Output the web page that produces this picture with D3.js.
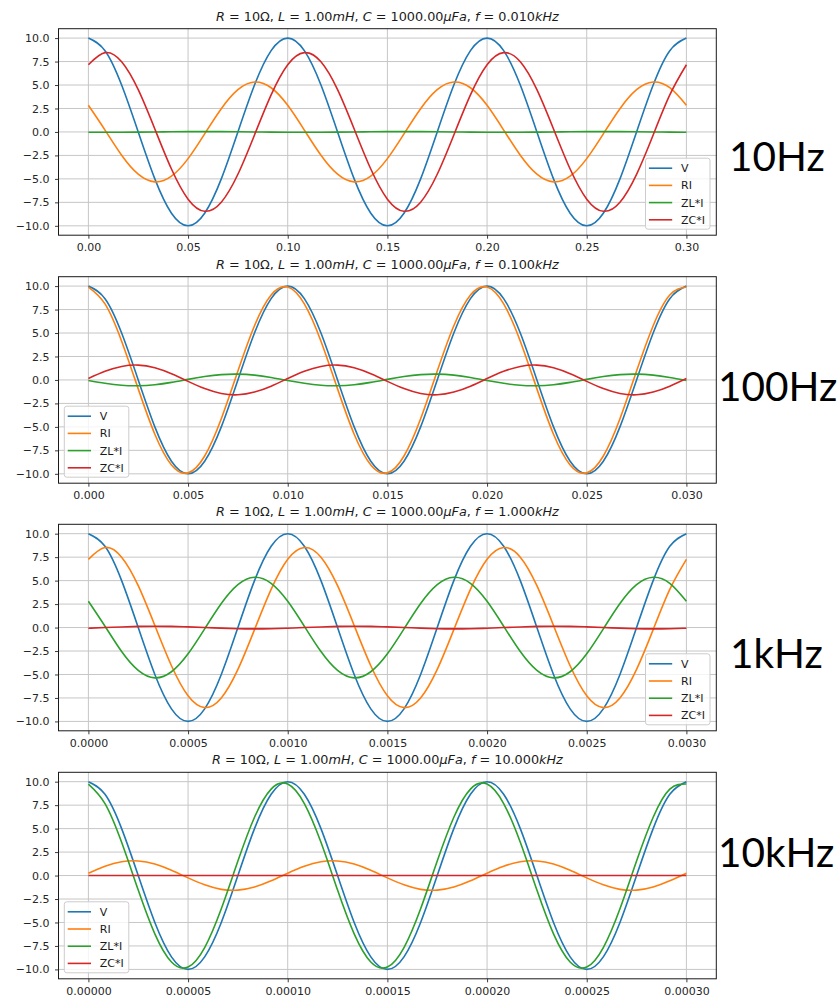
<!DOCTYPE html>
<html>
<head>
<meta charset="utf-8">
<script src="https://cdn.jsdelivr.net/npm/d3@7"></script>
<style>
	body { margin: 0; background: #fff; }
	svg { display: block; }
	.axis text { font-family: 'DejaVu Sans', sans-serif; font-size: 11px; fill: #262626; }
	.axis line { stroke: #262626; stroke-width: 0.9; }
	.title { font-family: 'DejaVu Sans', sans-serif; font-size: 12.8px; fill: #1a1a1a; }
	.title .it { font-style: italic; }
	.legend text { font-family: 'DejaVu Sans', sans-serif; font-size: 11px; fill: #1a1a1a; }
	.freq { font-family: Lato, 'Open Sans', sans-serif; font-size: 40.5px; fill: #000; }
</style>
</head>
<body>
<svg id="chart" width="839" height="997"></svg>
<script>
// sample times (s), 1/12 of a period apart
const t10Hz = [0,0.00833,0.01667,0.025,0.03333,0.04167,0.05,0.05833,0.06667,0.075,0.08333,0.09167,0.1,0.10833,0.11667,0.125,0.13333,0.14167,0.15,0.15833,0.16667,0.175,0.18333,0.19167,0.2,0.20833,0.21667,0.225,0.23333,0.24167,0.25,0.25833,0.26667,0.275,0.28333,0.29167,0.3]
const t100Hz = [0,0.000833,0.001667,0.0025,0.003333,0.004167,0.005,0.005833,0.006667,0.0075,0.008333,0.009167,0.01,0.010833,0.011667,0.0125,0.013333,0.014167,0.015,0.015833,0.016667,0.0175,0.018333,0.019167,0.02,0.020833,0.021667,0.0225,0.023333,0.024167,0.025,0.025833,0.026667,0.0275,0.028333,0.029167,0.03]
const t1kHz = [0,0.0000833,0.0001667,0.00025,0.0003333,0.0004167,0.0005,0.0005833,0.0006667,0.00075,0.0008333,0.0009167,0.001,0.0010833,0.0011667,0.00125,0.0013333,0.0014167,0.0015,0.0015833,0.0016667,0.00175,0.0018333,0.0019167,0.002,0.0020833,0.0021667,0.00225,0.0023333,0.0024167,0.0025,0.0025833,0.0026667,0.00275,0.0028333,0.0029167,0.003]
const t10kHz = [0,0.00000833,0.00001667,0.000025,0.00003333,0.00004167,0.00005,0.00005833,0.00006667,0.000075,0.00008333,0.00009167,0.0001,0.00010833,0.00011667,0.000125,0.00013333,0.00014167,0.00015,0.00015833,0.00016667,0.000175,0.00018333,0.00019167,0.0002,0.00020833,0.00021667,0.000225,0.00023333,0.00024167,0.00025,0.00025833,0.00026667,0.000275,0.00028333,0.00029167,0.0003]

// source voltage, same in every panel
const vSource = [10,8.66,5,0,-5,-8.66,-10,-8.66,-5,0,5,8.66, 10,8.66,5,0,-5,-8.66,-10,-8.66,-5,0,5,8.66, 10,8.66,5,0,-5,-8.66,-10,-8.66,-5,0,5,8.66, 10]

const ri10Hz = [2.84,0.2,-2.48,-4.5,-5.32,-4.71,-2.84,-0.2,2.48,4.5,5.32,4.71, 2.84,0.2,-2.48,-4.5,-5.32,-4.71,-2.84,-0.2,2.48,4.5,5.32,4.71, 2.84,0.2,-2.48,-4.5,-5.32,-4.71,-2.84,-0.2,2.48,4.5,5.32,4.71, 2.84]
const zl10Hz = [-0.03,-0.03,-0.03,-0.02,0,0.02,0.03,0.03,0.03,0.02,0,-0.02, -0.03,-0.03,-0.03,-0.02,0,0.02,0.03,0.03,0.03,0.02,0,-0.02, -0.03,-0.03,-0.03,-0.02,0,0.02,0.03,0.03,0.03,0.02,0,-0.02, -0.03]
const zc10Hz = [7.16,8.45,7.48,4.51,0.32,-3.95,-7.16,-8.45,-7.48,-4.51,-0.32,3.95, 7.16,8.45,7.48,4.51,0.32,-3.95,-7.16,-8.45,-7.48,-4.51,-0.32,3.95, 7.16,8.45,7.48,4.51,0.32,-3.95,-7.16,-8.45,-7.48,-4.51,-0.32,3.95, 7.16]

const ri100Hz = [9.9,8.1,4.13,-0.95,-5.78,-9.05,-9.9,-8.1,-4.13,0.95,5.78,9.05, 9.9,8.1,4.13,-0.95,-5.78,-9.05,-9.9,-8.1,-4.13,0.95,5.78,9.05, 9.9,8.1,4.13,-0.95,-5.78,-9.05,-9.9,-8.1,-4.13,0.95,5.78,9.05, 9.9]
const zl100Hz = [-0.06,-0.36,-0.57,-0.62,-0.51,-0.26,0.06,0.36,0.57,0.62,0.51,0.26, -0.06,-0.36,-0.57,-0.62,-0.51,-0.26,0.06,0.36,0.57,0.62,0.51,0.26, -0.06,-0.36,-0.57,-0.62,-0.51,-0.26,0.06,0.36,0.57,0.62,0.51,0.26, -0.06]
const zc100Hz = [0.15,0.92,1.44,1.58,1.29,0.66,-0.15,-0.92,-1.44,-1.58,-1.29,-0.66, 0.15,0.92,1.44,1.58,1.29,0.66,-0.15,-0.92,-1.44,-1.58,-1.29,-0.66, 0.15,0.92,1.44,1.58,1.29,0.66,-0.15,-0.92,-1.44,-1.58,-1.29,-0.66, 0.15]

const ri1kHz = [7.27,8.53,7.5,4.46,0.22,-4.07,-7.27,-8.53,-7.5,-4.46,-0.22,4.07, 7.27,8.53,7.5,4.46,0.22,-4.07,-7.27,-8.53,-7.5,-4.46,-0.22,4.07, 7.27,8.53,7.5,4.46,0.22,-4.07,-7.27,-8.53,-7.5,-4.46,-0.22,4.07, 7.27]
const zl1kHz = [2.8,0.14,-2.56,-4.57,-5.36,-4.71,-2.8,-0.14,2.56,4.57,5.36,4.71, 2.8,0.14,-2.56,-4.57,-5.36,-4.71,-2.8,-0.14,2.56,4.57,5.36,4.71, 2.8,0.14,-2.56,-4.57,-5.36,-4.71,-2.8,-0.14,2.56,4.57,5.36,4.71, 2.8]
const zc1kHz = [-0.07,0,0.06,0.12,0.14,0.12,0.07,0,-0.06,-0.12,-0.14,-0.12, -0.07,0,0.06,0.12,0.14,0.12,0.07,0,-0.06,-0.12,-0.14,-0.12, -0.07,0,0.06,0.12,0.14,0.12,0.07,0,-0.06,-0.12,-0.14,-0.12, -0.07]

const ri10kHz = [0.25,0.99,1.47,1.55,1.22,0.56,-0.25,-0.99,-1.47,-1.55,-1.22,-0.56, 0.25,0.99,1.47,1.55,1.22,0.56,-0.25,-0.99,-1.47,-1.55,-1.22,-0.56, 0.25,0.99,1.47,1.55,1.22,0.56,-0.25,-0.99,-1.47,-1.55,-1.22,-0.56, 0.25]
const zl10kHz = [9.75,7.67,3.54,-1.54,-6.21,-9.21,-9.75,-7.67,-3.54,1.54,6.21,9.21, 9.75,7.67,3.54,-1.54,-6.21,-9.21,-9.75,-7.67,-3.54,1.54,6.21,9.21, 9.75,7.67,3.54,-1.54,-6.21,-9.21,-9.75,-7.67,-3.54,1.54,6.21,9.21, 9.75]
const zc10kHz = [0,0,0,0,0,0,0,0,0,0,0,0, 0,0,0,0,0,0,0,0,0,0,0,0, 0,0,0,0,0,0,0,0,0,0,0,0, 0]

const seriesNames = ['V', 'RI', 'ZL*I', 'ZC*I']
const fValues = ['0.010', '0.100', '1.000', '10.000']
const freqLabels = ['10Hz', '100Hz', '1kHz', '10kHz']
const xTicks10Hz = [0, 0.05, 0.1, 0.15, 0.2, 0.25, 0.3]
const xTicks100Hz = [0, 0.005, 0.01, 0.015, 0.02, 0.025, 0.03]
const xTicks1kHz = [0, 0.0005, 0.001, 0.0015, 0.002, 0.0025, 0.003]
const xTicks10kHz = [0, 0.00005, 0.0001, 0.00015, 0.0002, 0.00025, 0.0003]
const yTicks = [-10, -7.5, -5, -2.5, 0, 2.5, 5, 7.5, 10]

const colors = ['#1f77b4', '#ff7f0e', '#2ca02c', '#d62728']

const panels = [
	{ t: t10Hz, series: [vSource, ri10Hz, zl10Hz, zc10Hz], xTicks: xTicks10Hz, fmt: '.2f', legend: 'right' },
	{ t: t100Hz, series: [vSource, ri100Hz, zl100Hz, zc100Hz], xTicks: xTicks100Hz, fmt: '.3f', legend: 'left' },
	{ t: t1kHz, series: [vSource, ri1kHz, zl1kHz, zc1kHz], xTicks: xTicks1kHz, fmt: '.4f', legend: 'right' },
	{ t: t10kHz, series: [vSource, ri10kHz, zl10kHz, zc10kHz], xTicks: xTicks10kHz, fmt: '.5f', legend: 'left' }
]

const svg = d3.select('#chart')

const left = 58.5,
	right = 716.3,
	plotH = 206.5
const tops = [28.7, 276.7, 524.3, 772.3]
// where the big frequency words sit (x, baseline)
const freqPos = [[729, 170.7], [718, 401], [730, 668.3], [718, 866.7]]

// mathtext-like title: letters italic, numbers upright
const drawTitle = (g, cx, y, f) => {
	const parts = [
		['R', true], [' = 10Ω, ', false], ['L', true], [' = 1.00', false], ['mH', true],
		[', ', false], ['C', true], [' = 1000.00', false], ['μFa', true], [', ', false],
		['f', true], [' = ' + f, false], ['kHz', true]
	]
	const text = g.append('text')
		.attr('class', 'title')
		.attr('x', cx)
		.attr('y', y)
		.attr('text-anchor', 'middle')
		.attr('xml:space', 'preserve')
	parts.forEach(([s, it]) => {
		text.append('tspan').attr('class', it ? 'it' : null).text(s)
	})
}

panels.forEach((p, i) => {
	const top = tops[i]
	const bottom = top + plotH
	const tMax = d3.max(p.t)

	const x = d3.scaleLinear().domain([-0.05 * tMax, 1.05 * tMax]).range([left, right])
	const y = d3.scaleLinear().domain([-11, 11]).range([bottom, top])

	const g = svg.append('g')

	// grid
	g.append('g')
		.selectAll('line')
		.data(p.xTicks)
		.enter()
		.append('line')
		.attr('x1', d => x(d))
		.attr('x2', d => x(d))
		.attr('y1', top)
		.attr('y2', bottom)
		.attr('stroke', '#c6c6c6')
		.attr('stroke-width', 1)
	g.append('g')
		.selectAll('line')
		.data(yTicks)
		.enter()
		.append('line')
		.attr('x1', left)
		.attr('x2', right)
		.attr('y1', d => y(d))
		.attr('y2', d => y(d))
		.attr('stroke', '#c6c6c6')
		.attr('stroke-width', 1)

	// curves
	const line = d3.line()
		.x((d, j) => x(p.t[j]))
		.y(d => y(d))
		.curve(d3.curveNatural)

	g.append('g')
		.selectAll('path')
		.data(p.series)
		.enter()
		.append('path')
		.attr('d', line)
		.attr('fill', 'none')
		.attr('stroke', (d, k) => colors[k])
		.attr('stroke-width', 1.6)

	// frame
	g.append('rect')
		.attr('x', left)
		.attr('y', top)
		.attr('width', right - left)
		.attr('height', plotH)
		.attr('fill', 'none')
		.attr('stroke', '#1a1a1a')
		.attr('stroke-width', 1)

	// axes
	const xAxis = g.append('g')
		.attr('class', 'axis')
		.attr('transform', `translate(0,${bottom})`)
		.call(d3.axisBottom(x).tickValues(p.xTicks).tickFormat(d3.format(p.fmt)).tickSize(3.5).tickPadding(5))
	xAxis.select('.domain').remove()
	xAxis.attr('font-size', null).attr('font-family', null)

	const yAxis = g.append('g')
		.attr('class', 'axis')
		.attr('transform', `translate(${left},0)`)
		.call(d3.axisLeft(y).tickValues(yTicks).tickFormat(d3.format('.1f')).tickSize(3.5).tickPadding(5.5))
	yAxis.select('.domain').remove()
	yAxis.attr('font-size', null).attr('font-family', null)

	drawTitle(g, (left + right) / 2, top - 8.2, fValues[i])

	// legend
	const lw = 64.5,
		lh = 71
	const lx = p.legend === 'right' ? right - 6.3 - lw : left + 5.8
	const ly = bottom - 6 - lh
	const leg = g.append('g').attr('class', 'legend').attr('transform', `translate(${lx},${ly})`)
	leg.append('rect')
		.attr('width', lw)
		.attr('height', lh)
		.attr('rx', 2.5)
		.attr('fill', '#fff')
		.attr('fill-opacity', 0.8)
		.attr('stroke', '#cccccc')
		.attr('stroke-width', 1)
	const rows = leg.selectAll('.row')
		.data(seriesNames)
		.enter()
		.append('g')
		.attr('class', 'row')
		.attr('transform', (d, k) => `translate(0,${10 + k * 17.2})`)
	rows.append('line')
		.attr('x1', 3.4)
		.attr('x2', 26.7)
		.attr('stroke', (d, k) => colors[k])
		.attr('stroke-width', 1.6)
	rows.append('text')
		.attr('x', 35.5)
		.attr('dy', '0.36em')
		.text(d => d)

	svg.append('text')
		.attr('class', 'freq')
		.attr('x', freqPos[i][0])
		.attr('y', freqPos[i][1])
		.text(freqLabels[i])
})
</script>
</body>
</html>
